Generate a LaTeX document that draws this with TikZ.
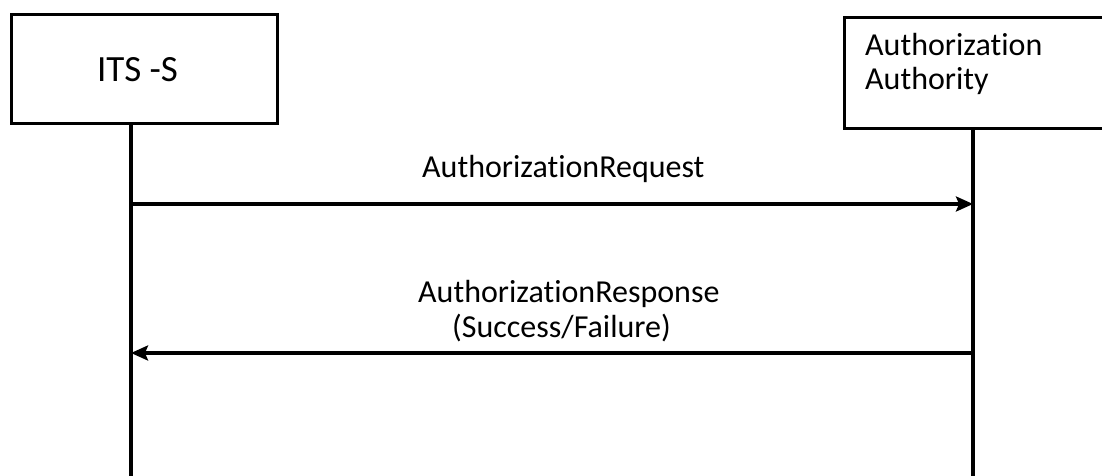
\documentclass[tikz,border=0pt]{standalone}
\usepackage{fontspec}
\setmainfont[RawFeature={-liga;-dlig}]{Carlito}
\usetikzlibrary{arrows.meta}
\begin{document}
\begin{tikzpicture}[x=1pt,y=-1pt,
  actorbox/.style={draw=black,line width=3.2pt,fill=white,inner sep=0pt,anchor=north west},
  lifeline/.style={draw=black,line width=3.4pt},
  msg/.style={draw=black,line width=3.2pt,-{Stealth[length=17pt,width=15pt,inset=3pt]}},
  lbl/.style={inner sep=0pt,anchor=base west,font=\fontsize{32}{34}\selectfont}]
\clip (0,0) rectangle (1102,476);
% lifeline ends
\coordinate (l1top) at (131,122);
\coordinate (l1bot) at (131,480);
\coordinate (l2top) at (973,127);
\coordinate (l2bot) at (973,480);
\draw[lifeline] (l1top) -- (l1bot);
\draw[lifeline] (l2top) -- (l2bot);
% boxes
\node[actorbox,minimum width=266pt,minimum height=109pt] (its) at (10,13) {};
\node[inner sep=0pt,anchor=base,font=\fontsize{37}{40}\selectfont] (itstxt) at (137.5,82) {ITS -S};
\node[actorbox,minimum width=270pt,minimum height=111pt] (aa) at (843,16) {};
\node[lbl] (aatxt1) at (865,56) {Authorization};
\node[lbl] (aatxt2) at (865,90) {Authority};
% messages
\coordinate (m1s) at (131,204);
\coordinate (m1e) at (973,204);
\coordinate (m2s) at (973,353);
\coordinate (m2e) at (131,353);
\draw[msg] (m1s) -- (m1e);
\draw[msg] (m2s) -- (m2e);
\node[lbl] (req) at (422,177) {AuthorizationRequest};
\node[lbl] (resp) at (418,302) {AuthorizationResponse};
\node[lbl] (resp2) at (452,337) {(Success/Failure)};
\end{tikzpicture}
\end{document}
